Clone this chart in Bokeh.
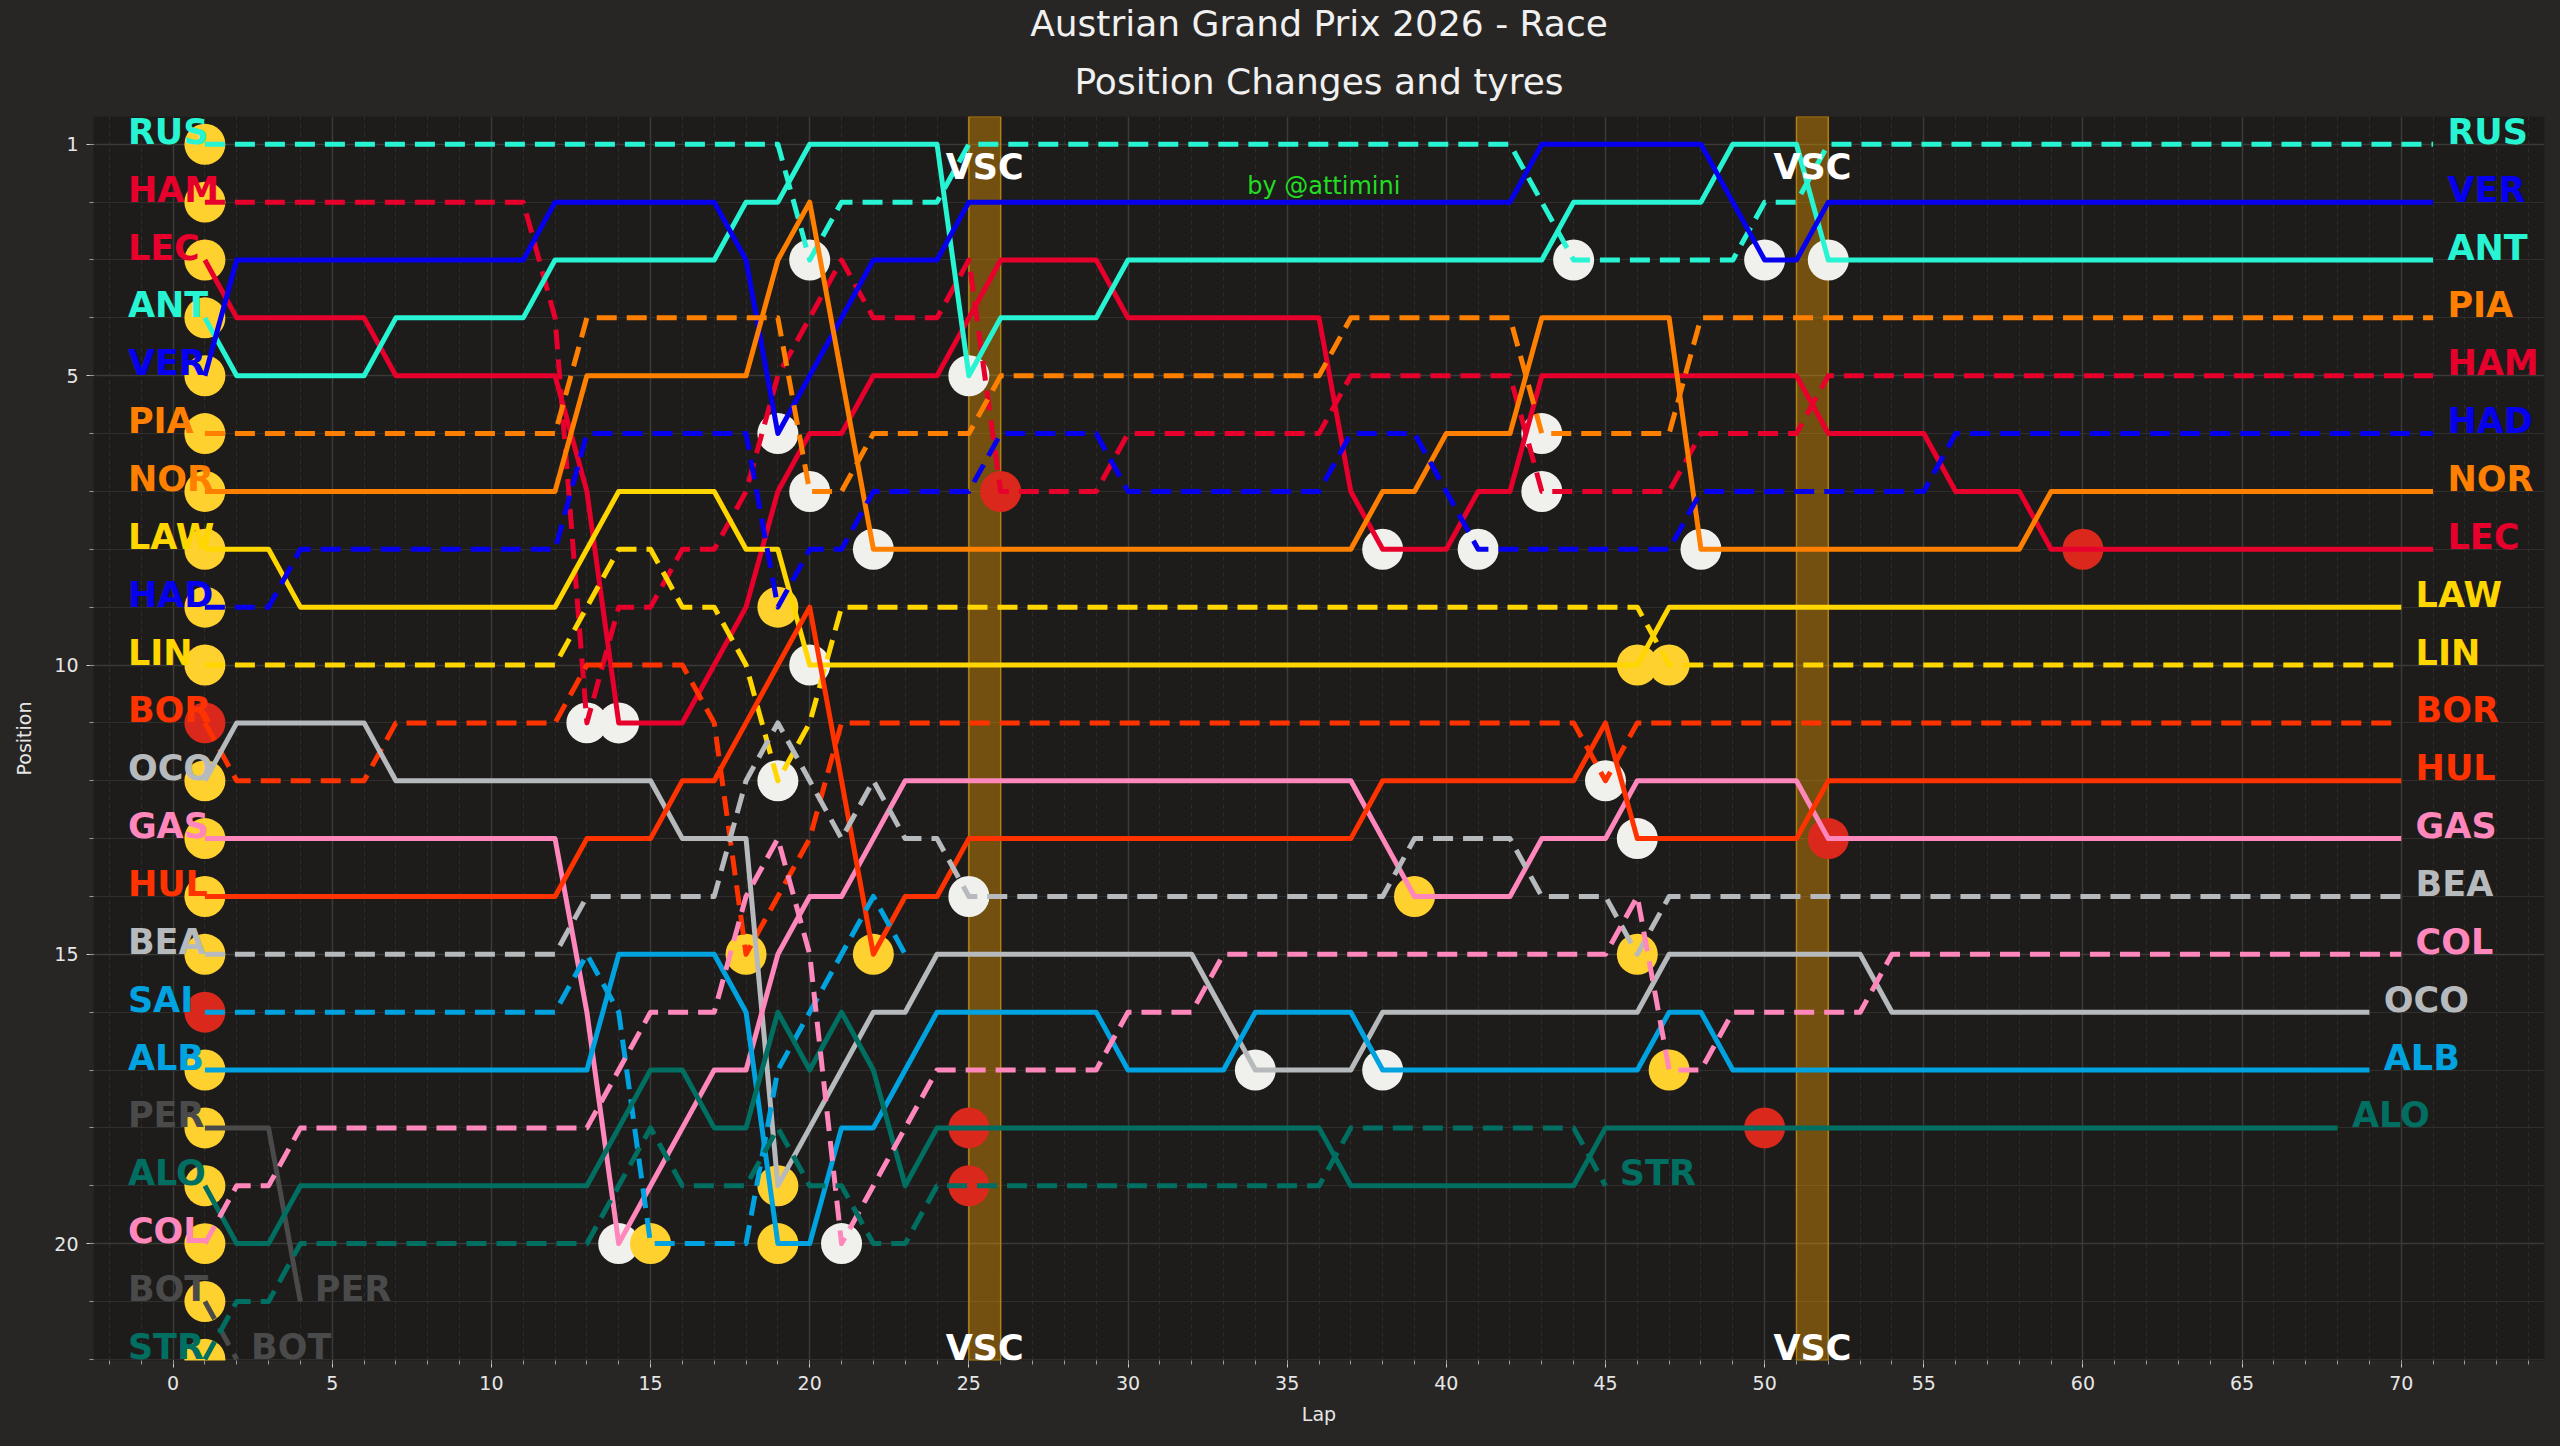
from bokeh.plotting import figure
from bokeh.models import (Range1d, SingleIntervalTicker, FixedTicker, Title,
                          BoxAnnotation, ColumnDataSource)
from bokeh.embed import file_html
from bokeh.resources import INLINE
from bokeh.core.properties import value

# ---------------- data ----------------
title_lines = ["Austrian Grand Prix 2026 - Race", "Position Changes and tyres"]

drivers = ["RUS", "HAM", "LEC", "ANT", "VER", "PIA", "NOR", "LAW", "HAD", "LIN", "BOR",
           "OCO", "GAS", "HUL", "BEA", "SAI", "ALB", "PER", "ALO", "COL", "BOT", "STR"]

team_colors = {
    "RUS": "#27F4D2", "ANT": "#27F4D2",
    "HAM": "#E8002D", "LEC": "#E8002D",
    "VER": "#0600EF", "HAD": "#0600EF",
    "PIA": "#FF8000", "NOR": "#FF8000",
    "LAW": "#FFD600", "LIN": "#FFD600",
    "BOR": "#FF3300", "HUL": "#FF3300",
    "OCO": "#B6BABD", "BEA": "#B6BABD",
    "GAS": "#FF87BC", "COL": "#FF87BC",
    "SAI": "#00A3E0", "ALB": "#00A3E0",
    "PER": "#4A4A4A", "BOT": "#4A4A4A",
    "ALO": "#006F62", "STR": "#006F62",
}
dashed_drivers = ["RUS", "HAM", "HAD", "PIA", "LIN", "BOR", "BEA", "SAI", "COL", "BOT", "STR"]

# positions from lap 1, as (position, number of laps) runs
RUS_runs = [(1, 19), (3, 1), (2, 4), (1, 18), (2, 1), (3, 6), (2, 2), (1, 20)]
HAM_runs = [(2, 11), (4, 1), (11, 1), (9, 2), (8, 2), (7, 1), (5, 1), (4, 1), (3, 1), (4, 3),
            (3, 1), (7, 4), (6, 7), (5, 6), (7, 5), (6, 4), (5, 20)]
LEC_runs = [(3, 1), (4, 5), (5, 6), (7, 1), (11, 3), (10, 1), (9, 1), (7, 1), (6, 2), (5, 3),
            (4, 1), (3, 4), (4, 7), (7, 1), (8, 3), (7, 2), (5, 9), (6, 4), (7, 3), (8, 13)]
ANT_runs = [(4, 1), (5, 5), (4, 5), (3, 6), (2, 2), (1, 5), (5, 1), (4, 4), (3, 14), (2, 5),
            (1, 3), (3, 20)]
VER_runs = [(5, 1), (3, 10), (2, 6), (3, 1), (6, 1), (5, 1), (4, 1), (3, 3), (2, 18), (1, 6),
            (2, 1), (3, 2), (2, 20)]
PIA_runs = [(6, 12), (4, 7), (7, 2), (6, 4), (5, 11), (4, 6), (6, 5), (4, 24)]
NOR_runs = [(7, 12), (5, 6), (3, 1), (2, 1), (5, 1), (8, 16), (7, 2), (6, 3), (4, 5), (8, 11),
            (7, 13)]
LAW_runs = [(8, 3), (9, 9), (8, 1), (7, 4), (8, 2), (10, 27), (9, 24)]
HAD_runs = [(9, 3), (8, 9), (6, 6), (9, 1), (8, 2), (7, 4), (6, 4), (7, 7), (6, 3), (7, 1),
            (8, 7), (7, 8), (6, 16)]
LIN_runs = [(10, 12), (9, 1), (8, 2), (9, 2), (10, 1), (12, 1), (11, 1), (9, 26), (10, 24)]
BOR_runs = [(11, 1), (12, 5), (11, 6), (10, 4), (11, 1), (15, 1), (14, 1), (13, 1), (11, 24),
            (12, 1), (11, 25)]
OCO_runs = [(12, 1), (11, 5), (12, 9), (13, 3), (19, 1), (18, 1), (17, 1), (16, 2), (15, 9),
            (16, 1), (17, 4), (16, 9), (15, 7), (16, 16)]
GAS_runs = [(13, 12), (16, 1), (20, 1), (19, 1), (18, 1), (17, 2), (15, 1), (14, 2), (13, 1),
            (12, 15), (13, 1), (14, 4), (13, 3), (12, 6), (13, 19)]
HUL_runs = [(14, 12), (13, 3), (12, 2), (11, 1), (10, 1), (9, 1), (12, 1), (15, 1), (14, 2),
            (13, 13), (12, 7), (11, 1), (13, 6), (12, 19)]
BEA_runs = [(15, 12), (14, 5), (12, 1), (11, 1), (12, 1), (13, 1), (12, 1), (13, 2), (14, 14),
            (13, 4), (14, 3), (15, 1), (14, 24)]
SAI_runs = [(16, 12), (15, 1), (16, 1), (20, 4), (17, 1), (16, 1), (15, 1), (14, 1), (15, 1)]
ALB_runs = [(17, 13), (15, 4), (16, 1), (20, 2), (18, 2), (17, 1), (16, 6), (17, 4), (16, 4),
            (17, 9), (16, 2), (17, 21)]
PER_runs = [(18, 3), (21, 1)]
ALO_runs = [(19, 1), (20, 2), (19, 10), (18, 1), (17, 2), (18, 2), (16, 1), (17, 1), (16, 1),
            (17, 1), (19, 1), (18, 13), (19, 8), (18, 24)]
COL_runs = [(20, 1), (19, 2), (18, 10), (17, 1), (16, 3), (14, 1), (13, 1), (15, 1), (20, 1),
            (19, 1), (18, 1), (17, 6), (16, 3), (15, 13), (14, 1), (17, 2), (16, 5), (15, 17)]
BOT_runs = [(21, 1), (22, 1)]
STR_runs = [(22, 1), (21, 2), (20, 10), (19, 1), (18, 1), (19, 3), (18, 1), (19, 2), (20, 2),
            (19, 13), (18, 8), (19, 1)]

runs_by_driver = {
    "RUS": RUS_runs, "HAM": HAM_runs, "LEC": LEC_runs, "ANT": ANT_runs, "VER": VER_runs,
    "PIA": PIA_runs, "NOR": NOR_runs, "LAW": LAW_runs, "HAD": HAD_runs, "LIN": LIN_runs,
    "BOR": BOR_runs, "OCO": OCO_runs, "GAS": GAS_runs, "HUL": HUL_runs, "BEA": BEA_runs,
    "SAI": SAI_runs, "ALB": ALB_runs, "PER": PER_runs, "ALO": ALO_runs, "COL": COL_runs,
    "BOT": BOT_runs, "STR": STR_runs,
}

start_tyres = ["MEDIUM", "MEDIUM", "MEDIUM", "MEDIUM", "MEDIUM", "MEDIUM", "MEDIUM", "MEDIUM",
               "MEDIUM", "MEDIUM", "SOFT", "MEDIUM", "MEDIUM", "MEDIUM", "MEDIUM", "SOFT",
               "MEDIUM", "MEDIUM", "MEDIUM", "MEDIUM", "MEDIUM", "MEDIUM"]

pit_drivers = ["HAM", "LEC", "GAS", "SAI", "BOR", "VER", "HAD", "LIN", "OCO", "ALB",
               "RUS", "PIA", "LAW", "COL", "NOR", "HUL", "ANT", "BEA", "ALO", "STR",
               "HAM", "OCO", "LEC", "ALB", "GAS", "HAD", "PIA", "HAM", "RUS", "BOR",
               "HUL", "LAW", "BEA", "LIN", "COL", "NOR", "VER", "ALO", "ANT", "GAS", "LEC"]
pit_laps = [13, 14, 14, 15, 18, 19, 19, 19, 19, 19,
            20, 20, 20, 21, 22, 22, 25, 25, 25, 25,
            26, 34, 38, 38, 39, 41, 43, 43, 44, 45,
            46, 46, 46, 47, 47, 48, 50, 50, 52, 52, 60]
pit_tyres = ["HARD", "HARD", "HARD", "MEDIUM", "MEDIUM", "HARD", "MEDIUM", "HARD", "MEDIUM", "MEDIUM",
             "HARD", "HARD", "HARD", "HARD", "HARD", "MEDIUM", "HARD", "HARD", "SOFT", "SOFT",
             "SOFT", "HARD", "HARD", "HARD", "MEDIUM", "HARD", "HARD", "HARD", "HARD", "HARD",
             "HARD", "MEDIUM", "MEDIUM", "MEDIUM", "MEDIUM", "HARD", "HARD", "SOFT", "HARD", "SOFT", "SOFT"]

tyre_colors = {"SOFT": "#DA291C", "MEDIUM": "#FFD12E", "HARD": "#F0F0EC"}

vsc_laps = [25, 51]
end_label_skip = ["SAI"]

# ---------------- build series ----------------
series = {}
for d in drivers:
    pos = []
    for p_, n in runs_by_driver[d]:
        pos.extend([p_] * n)
    laps = list(range(1, len(pos) + 1))
    series[d] = (laps, pos)

BG_OUT = "#272624"
BG_IN = "#1d1c1a"
TXT = "#e6e6e6"
LABEL_SHIFT = 0.215   # raise centred labels so that their capitals sit on the line

p = figure(width=2560, height=1446, output_backend="svg", toolbar_location=None,
           x_range=Range1d(-2.5, 74.5), y_range=Range1d(22.02, 0.52),
           min_border_left=93, min_border_right=16, min_border_top=113, min_border_bottom=86,
           background_fill_color=BG_IN, border_fill_color=BG_OUT, outline_line_color=None)

# titles (two centred lines)
p.title.text = title_lines[0]
p.title.align = "center"
p.title.text_font = "DejaVu Sans"
p.title.text_font_style = "normal"
p.title.text_font_size = "36px"
p.title.text_color = "#f0f0f0"
p.title.standoff = 0
sub = Title(text=title_lines[1], align="center", text_font="DejaVu Sans",
            text_font_style="normal", text_font_size="36px", text_color="#f0f0f0",
            standoff=30)
p.add_layout(sub, "above")

# axes
p.xaxis.ticker = SingleIntervalTicker(interval=5, num_minor_ticks=5)
p.yaxis.ticker = FixedTicker(ticks=[1, 5, 10, 15, 20], minor_ticks=list(range(1, 23)))
for ax in (p.xaxis, p.yaxis):
    ax.axis_line_color = None
    ax.major_tick_line_color = "#cfcfcf"
    ax.minor_tick_line_color = "#9a9a9a"
    ax.major_tick_out = 7
    ax.major_tick_in = 0
    ax.minor_tick_out = 4
    ax.minor_tick_in = 0
    ax.major_label_text_color = TXT
    ax.major_label_text_font = "DejaVu Sans"
    ax.major_label_text_font_size = "19px"
    ax.major_label_standoff = 8
    ax.axis_label_text_color = TXT
    ax.axis_label_text_font = "DejaVu Sans"
    ax.axis_label_text_font_style = "normal"
    ax.axis_label_text_font_size = "19px"
p.xaxis.axis_label = "Lap"
p.yaxis.axis_label = "Position"
p.xaxis.axis_label_standoff = 10
p.yaxis.axis_label_standoff = 16

p.xgrid.grid_line_color = "#3b3a38"
p.xgrid.grid_line_width = 1.5
p.xgrid.minor_grid_line_color = "#2f2e2c"
p.xgrid.minor_grid_line_dash = "4 4"
p.ygrid.grid_line_color = "#3b3a38"
p.ygrid.grid_line_width = 1.5
p.ygrid.minor_grid_line_color = "#302f2d"

# VSC bands
for v in vsc_laps:
    p.add_layout(BoxAnnotation(left=v, right=v + 1, fill_color="#FFA500", fill_alpha=0.38,
                               line_color="#C8900F", line_alpha=0.8, line_width=1.5,
                               level="underlay"))

# tyre markers (under the lines)
mx, my, mc = [], [], []
for d, t in zip(drivers, start_tyres):
    laps, pos = series[d]
    mx.append(laps[0]); my.append(pos[0]); mc.append(tyre_colors[t])
for d, lap, t in zip(pit_drivers, pit_laps, pit_tyres):
    laps, pos = series[d]
    mx.append(lap); my.append(pos[laps.index(lap)]); mc.append(tyre_colors[t])
p.scatter(x=mx, y=my, size=41, fill_color=mc, line_color=None)

# position lines
for d in drivers:
    laps, pos = series[d]
    p.line(laps, pos, line_color=team_colors[d], line_width=5, line_join="round",
           line_dash="20 10" if d in dashed_drivers else "solid")

# driver labels
lx, ly, lt, lc = [], [], [], []
for d in drivers:
    laps, pos = series[d]
    lx.append(-1.42); ly.append(pos[0] - LABEL_SHIFT); lt.append(d); lc.append(team_colors[d])
    if d not in end_label_skip:
        lx.append(laps[-1] + 0.45); ly.append(pos[-1] - LABEL_SHIFT)
        lt.append(d); lc.append(team_colors[d])
lsrc = ColumnDataSource(dict(x=lx, y=ly, text=lt, color=lc))
p.text(x="x", y="y", text="text", source=lsrc, text_color="color",
       text_font=value("DejaVu Sans"), text_font_style="bold", text_font_size="35px",
       text_align="left", text_baseline="middle")

# VSC texts
vx, vy, vt = [], [], []
for v in vsc_laps:
    vx += [v + 0.5, v + 0.5]; vy += [1.40, 21.80]; vt += ["VSC", "VSC"]
p.text(x=vx, y=vy, text=vt, text_color="#ffffff", text_font=value("DejaVu Sans"),
       text_font_style="bold", text_font_size="35px", text_align="center",
       text_baseline="middle")

p.text(x=[36.15], y=[1.72], text=["by @attimini"], text_color="#22dd22",
       text_font=value("DejaVu Sans"), text_font_size="24px", text_align="center",
       text_baseline="middle")

html = file_html(p, INLINE, title="Austrian Grand Prix 2026 - Race")
html = html.replace(
    "</head>",
    "<style>html, body {margin: 0 !important; padding: 0 !important; "
    "background: %s !important; overflow: hidden;}</style></head>" % BG_OUT, 1)
open("out.html", "w").write(html)
